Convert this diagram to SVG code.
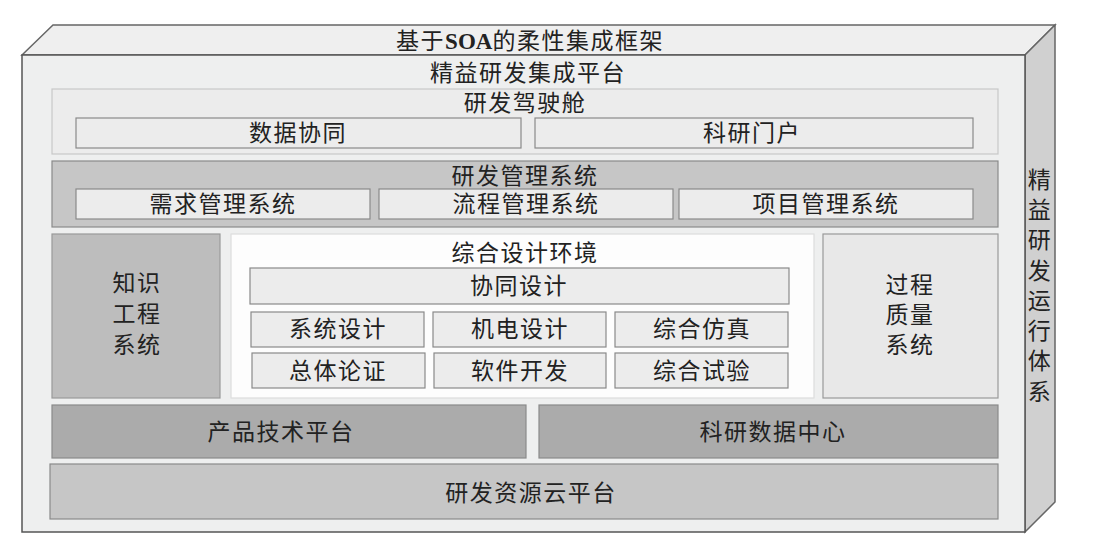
<svg xmlns="http://www.w3.org/2000/svg" width="1096" height="538" viewBox="0 0 1096 538">
<style>
text{font-family:"Liberation Serif","Noto Sans CJK SC",serif;font-size:23px;fill:#222;text-anchor:middle;dominant-baseline:central;letter-spacing:1.5px}
.lab{font-size:22px}
.pl{fill:#ececec;stroke:#c8c8c8;stroke-width:1.2}
.sb{fill:#ececec;stroke:#8a8a8a;stroke-width:1.2}
.dk{fill:#c6c6c6;stroke:#8a8a8a;stroke-width:1.2}
.dd{fill:#ababab;stroke:#8a8a8a;stroke-width:1.2}
</style>
<rect width="1096" height="538" fill="#ffffff"/>
<g id="frame">
<polygon points="22,55 53,25 1055,25 1025,55" fill="#efefef" stroke="#666" stroke-width="1.5"/>
<polygon points="1025,55 1055,25 1055,502 1025,532" fill="#d0d0d0" stroke="#666" stroke-width="1.5"/>
<rect x="22" y="55" width="1003" height="477" fill="#eeefef" stroke="#555" stroke-width="1.5"/>
<text x="530" y="41">基于<tspan font-weight="bold" letter-spacing="0">SOA</tspan>的柔性集成框架</text>
<text x="528" y="73">精益研发集成平台</text>
<g class="lab"><text x="1040" y="180">精</text><text x="1040" y="210">益</text><text x="1040" y="240">研</text><text x="1040" y="271">发</text><text x="1040" y="301">运</text><text x="1040" y="331">行</text><text x="1040" y="361">体</text><text x="1040" y="392">系</text></g>
</g>
<g id="cockpit">
<rect class="pl" x="52" y="89" width="946" height="65"/>
<text x="525" y="103">研发驾驶舱</text>
</g>
<g id="data-collab"><rect class="sb" x="76" y="118" width="445" height="30"/><text x="298" y="133">数据协同</text></g>
<g id="portal"><rect class="sb" x="535" y="118" width="438" height="30"/><text x="752" y="133">科研门户</text></g>
<g id="rd-mgmt">
<rect class="dk" x="52" y="161" width="946" height="66"/>
<text x="525" y="176">研发管理系统</text>
</g>
<g id="req"><rect class="sb" x="76" y="189" width="294" height="30"/><text x="223" y="204">需求管理系统</text></g>
<g id="flow"><rect class="sb" x="379" y="189" width="294" height="30"/><text x="526" y="204">流程管理系统</text></g>
<g id="proj"><rect class="sb" x="679" y="189" width="294" height="30"/><text x="826" y="204">项目管理系统</text></g>
<g id="knowledge">
<rect x="52" y="234" width="168" height="164" fill="#bdbdbd" stroke="#999" stroke-width="1.2"/>
<text x="137" y="283">知识</text><text x="137" y="314">工程</text><text x="137" y="345">系统</text>
</g>
<g id="design-env">
<rect x="231" y="234" width="583" height="164" fill="#fdfdfd" stroke="#ddd" stroke-width="1.2"/>
<text x="525" y="253">综合设计环境</text>
</g>
<g id="collab-design"><rect class="sb" x="250" y="268" width="539" height="36"/><text x="519" y="286">协同设计</text></g>
<g id="sys-design"><rect class="sb" x="251" y="312" width="173" height="35"/><text x="338" y="329">系统设计</text></g>
<g id="mech-design"><rect class="sb" x="433" y="312" width="173" height="35"/><text x="520" y="329">机电设计</text></g>
<g id="sim"><rect class="sb" x="615" y="312" width="173" height="35"/><text x="702" y="329">综合仿真</text></g>
<g id="demo"><rect class="sb" x="252" y="353" width="173" height="35"/><text x="338" y="371">总体论证</text></g>
<g id="software"><rect class="sb" x="434" y="353" width="172" height="35"/><text x="520" y="371">软件开发</text></g>
<g id="test"><rect class="sb" x="615" y="353" width="173" height="35"/><text x="702" y="371">综合试验</text></g>
<g id="quality">
<rect x="823" y="234" width="175" height="164" fill="#e8e8e8" stroke="#999" stroke-width="1.2"/>
<text x="910" y="285">过程</text><text x="910" y="315">质量</text><text x="910" y="345">系统</text>
</g>
<g id="product-platform"><rect class="dd" x="52" y="405" width="474" height="53"/><text x="281" y="432">产品技术平台</text></g>
<g id="data-center"><rect class="dd" x="539" y="405" width="459" height="53"/><text x="773" y="432">科研数据中心</text></g>
<g id="cloud"><rect class="dk" x="50" y="464" width="948" height="55"/><text x="531" y="493">研发资源云平台</text></g>
<g id="connectors"></g>
</svg>
